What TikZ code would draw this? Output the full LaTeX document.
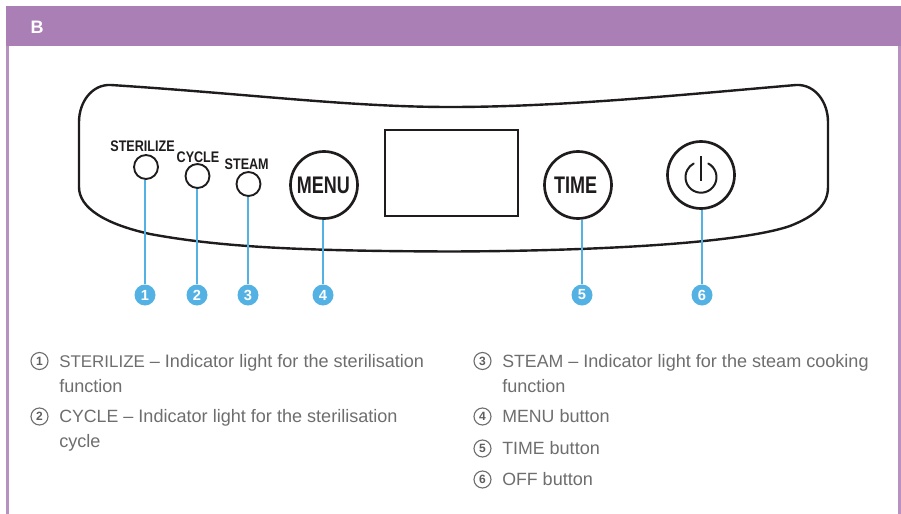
\documentclass[tikz,border=0pt]{standalone}
\usepackage{fontspec}
\setmainfont{Liberation Sans}
\newfontfamily\cnfont[FakeStretch=0.82]{Liberation Sans}
\newfontfamily\btnfont[FakeStretch=0.75]{Liberation Sans}
\definecolor{hdr}{HTML}{AA7FB6}
\definecolor{cyanb}{HTML}{53B2E3}
\definecolor{ink}{HTML}{1F1C1D}
\definecolor{bodyt}{HTML}{6E6E6E}
\newcommand{\tightcaps}[1]{{\fontsize{12.7pt}{18pt}\selectfont #1}}
\newcommand{\normcaps}[1]{{\fontsize{13.3pt}{18pt}\selectfont #1}}
\tikzset{
 x=0.75pt,y=-0.75pt,
 panelline/.style={draw=ink,line width=1.8pt},
 lamp/.style={circle,draw=ink,line width=1.4pt,minimum size=24pt*0.75,inner sep=0pt,fill=white},
 bigbtn/.style={circle,draw=ink,line width=2pt,minimum size=67pt*0.75,inner sep=0pt,fill=white},
 lamplabel/.style={inner sep=0pt,text=ink,font=\cnfont\bfseries\fontsize{11.5pt}{13pt}\selectfont},
 btntext/.style={inner sep=0pt,text=ink,font=\btnfont\bfseries\fontsize{18pt}{20pt}\selectfont},
 badge/.style={circle,fill=cyanb,minimum size=21pt*0.75,inner sep=0pt,text=white,font=\bfseries\fontsize{11pt}{12pt}\selectfont},
 leader/.style={draw=cyanb,line width=1.5pt},
 listnum/.style={circle,draw=bodyt,line width=0.85pt,minimum size=17pt*0.75,inner sep=0pt,text=bodyt!85!black,font=\bfseries\fontsize{9pt}{10pt}\selectfont},
 listtext/.style={anchor=base west,inner sep=0pt,text=bodyt,font=\fontsize{13.55pt}{18pt}\selectfont},
}
\begin{document}
\begin{tikzpicture}
\useasboundingbox (0,0) rectangle (901,514);
\fill[white] (0,0) rectangle (901,514);
% frame
\fill[hdr] (6,5.5) rectangle (901,46);
\fill[hdr!85!white] (6,46) rectangle (8.8,514);
\fill[hdr!85!white] (898,46) rectangle (901,514);
\node[text=white,font=\bfseries\fontsize{13.5pt}{15pt}\selectfont,inner sep=0pt] (hdrB) at (37,27.5) {B};
% panel
\draw[panelline] (111,85)
  .. controls (250,94) and (350,107) .. (450,107)
  .. controls (560,107) and (680,95) .. (796,85)
  .. controls (815,84) and (828,102) .. (828,122)
  -- (828,187)
  .. controls (828,205) and (815,216) .. (790,226)
  .. controls (740,243) and (600,251) .. (450,251.5)
  .. controls (300,251) and (220,247) .. (150,234)
  .. controls (105,224) and (79,208) .. (79,187)
  -- (79,122)
  .. controls (79,102) and (92,84) .. (111,85) -- cycle;
% screen
\node[draw=ink,line width=1.8pt,minimum width=133pt*0.75,minimum height=86pt*0.75,inner sep=0pt] (screen) at (451.5,173) {};
% lamps
\node[lamp] (l1) at (146,167) {};
\node[lamp] (l2) at (197.5,176) {};
\node[lamp] (l3) at (248.5,184) {};
\node[lamplabel] (t1) at (142.5,146) {STERILIZE};
\node[lamplabel] (t2) at (198,157) {CYCLE};
\node[lamplabel] (t3) at (246.7,164.5) {STEAM};
% buttons
\node[bigbtn] (menu) at (324,185) {};
\node[bigbtn] (time) at (578,185) {};
\node[bigbtn] (off) at (701,175) {};
\node[btntext] (menutxt) at (323.3,185.5) {MENU};
\node[btntext] (timetxt) at (575.5,185.5) {TIME};
\draw[draw=ink,line width=1.5pt,line cap=round] ([shift={(62:15.5*0.75pt)},yshift=-2.2*0.75pt]off.center) arc[start angle=62,end angle=-242,radius=15.5*0.75pt];
\draw[draw=ink,line width=1.5pt] ([yshift=19*0.75pt]off.center) -- ([yshift=-6*0.75pt]off.center);
% badges
\node[badge] (b1) at (145,295) {1};
\node[badge] (b2) at (197,295) {2};
\node[badge] (b3) at (248,295) {3};
\node[badge] (b4) at (323,295) {4};
\node[badge] (b5) at (582,295) {5};
\node[badge] (b6) at (702,295) {6};
\draw[leader] (l1.south -| b1) -- (b1);
\draw[leader] (l2.south -| b2) -- (b2);
\draw[leader] (l3.south -| b3) -- (b3);
\draw[leader] (menu.south -| b4) -- (b4);
\draw[leader] (time.south -| b5) -- (b5);
\draw[leader] (off.south -| b6) -- (b6);
% list
\node[listnum] (n1) at (39.5,361) {1};
\node[listtext] (d1a) at (59,367.5) {\tightcaps{STERILIZE} – Indicator light for the sterilisation};
\node[listtext] (d1b) at (59,392) {function};
\node[listnum] (n2) at (39.5,416.5) {2};
\node[listtext] (d2a) at (59,422.5) {\normcaps{CYCLE} – Indicator light for the sterilisation};
\node[listtext] (d2b) at (59,447) {cycle};
\node[listnum] (n3) at (482.5,361) {3};
\node[listtext] (d3a) at (502,367.5) {\normcaps{STEAM} – Indicator light for the steam cooking};
\node[listtext] (d3b) at (502,392) {function};
\node[listnum] (n4) at (482.5,416.5) {4};
\node[listtext] (d4) at (502,422.5) {\normcaps{MENU} button};
\node[listnum] (n5) at (482.5,448.5) {5};
\node[listtext] (d5) at (502,454.5) {\normcaps{TIME} button};
\node[listnum] (n6) at (482.5,479.5) {6};
\node[listtext] (d6) at (502,485.5) {\normcaps{OFF} button};
\end{tikzpicture}
\end{document}
